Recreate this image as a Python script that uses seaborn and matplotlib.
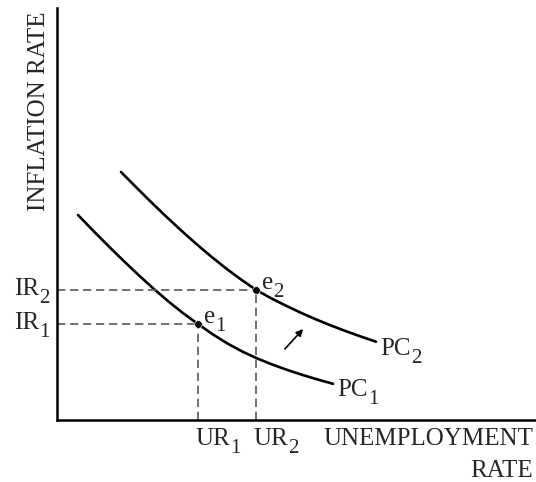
import numpy as np
import pandas as pd
import seaborn as sns
from matplotlib import pyplot as plt

# curve points (x = unemployment, y = inflation, arbitrary units)
pc1_x = [21, 36, 51, 66, 81, 96, 111, 126, 141, 156, 171, 186, 201, 216, 231, 246, 261, 276]
pc1_y = [205, 189.5, 174.4, 159.7, 145.5, 131.8, 118.9, 106.9, 96, 85.5, 76.2, 68.1, 61.2,
         55.2, 49.8, 44.9, 40.4, 36.2]
pc2_x = [64, 79, 94, 109, 124, 139, 154, 169, 184, 199, 214, 229, 244, 259, 274, 289, 304, 319]
pc2_y = [248, 232.9, 218, 203.6, 189.7, 176.3, 163.6, 151.6, 140.5, 130.2, 121.8, 114.3,
         107.2, 100.6, 94.5, 88.8, 83.4, 78.3]

# equilibrium points e1, e2
eq_x = [141, 199]
eq_y = [96, 130]
subs = ['1', '2']

df = pd.DataFrame({
    'x': pc1_x + pc2_x,
    'y': pc1_y + pc2_y,
    'curve': ['PC1'] * len(pc1_x) + ['PC2'] * len(pc2_x),
})

sns.set_style('white')
plt.rcParams['font.family'] = ['Liberation Serif', 'DejaVu Serif']

fig = plt.figure(figsize=(5.36, 4.82), dpi=100)
ax = fig.add_axes([57 / 536, 62 / 482, 479 / 536, 412 / 482])

# Phillips curves
sns.lineplot(data=df, x='x', y='y', units='curve', estimator=None, sort=False,
             color='black', lw=1.9, ax=ax, legend=False)

# dashed guide lines
for x0, y0 in zip(eq_x, eq_y):
    ax.plot([0, x0], [y0, y0], color='#666666', lw=1.3, ls=(0, (4.6, 2.6)))
    ax.plot([x0, x0], [0, y0], color='#666666', lw=1.3, ls=(0, (4.6, 2.6)))

sns.scatterplot(x=eq_x, y=eq_y, color='black', s=30, zorder=5, ax=ax, legend=False)

# shift arrow
ax.annotate('', xy=(248, 93), xytext=(226, 69),
            arrowprops=dict(arrowstyle='-|>', color='black', lw=1.2, mutation_scale=10))

fs = 18


def sub_label(x, y, main, sub, ha='left'):
    # main text plus a bigger, lower subscript than mathtext gives
    t = ax.text(x, y, main, fontsize=fs, ha=ha, va='baseline', clip_on=False)
    ax.annotate(sub, xy=(1, 0), xycoords=t, xytext=(0.2, -2.5), textcoords='offset points',
                fontsize=15, va='baseline', ha='left', annotation_clip=False)


for i in range(2):
    sub_label(eq_x[i] + 6, eq_y[i] + 1, 'e', subs[i])
    sub_label(-18, eq_y[i] - 5, 'IR', subs[i], ha='right')
    sub_label(eq_x[i] - 3, -25, 'UR', subs[i])

sub_label(280, 24, 'PC', '1')
sub_label(323, 65, 'PC', '2')

ax.text(476, -25, 'UNEMPLOYMENT', fontsize=fs, ha='right', va='baseline', clip_on=False)
ax.text(476, -57, 'RATE', fontsize=fs, ha='right', va='baseline', clip_on=False)
ax.text(-18, 409, 'INFLATION RATE', fontsize=fs, rotation=90, ha='center', va='top', clip_on=False)

ax.set_xlim(0, 479)
ax.set_ylim(0, 412)
ax.set_xticks([])
ax.set_yticks([])
ax.set_xlabel('')
ax.set_ylabel('')
sns.despine(ax=ax)
for side in ['left', 'bottom']:
    ax.spines[side].set_linewidth(1.8)
    ax.spines[side].set_color('black')

fig.savefig('out.png', dpi=100)
